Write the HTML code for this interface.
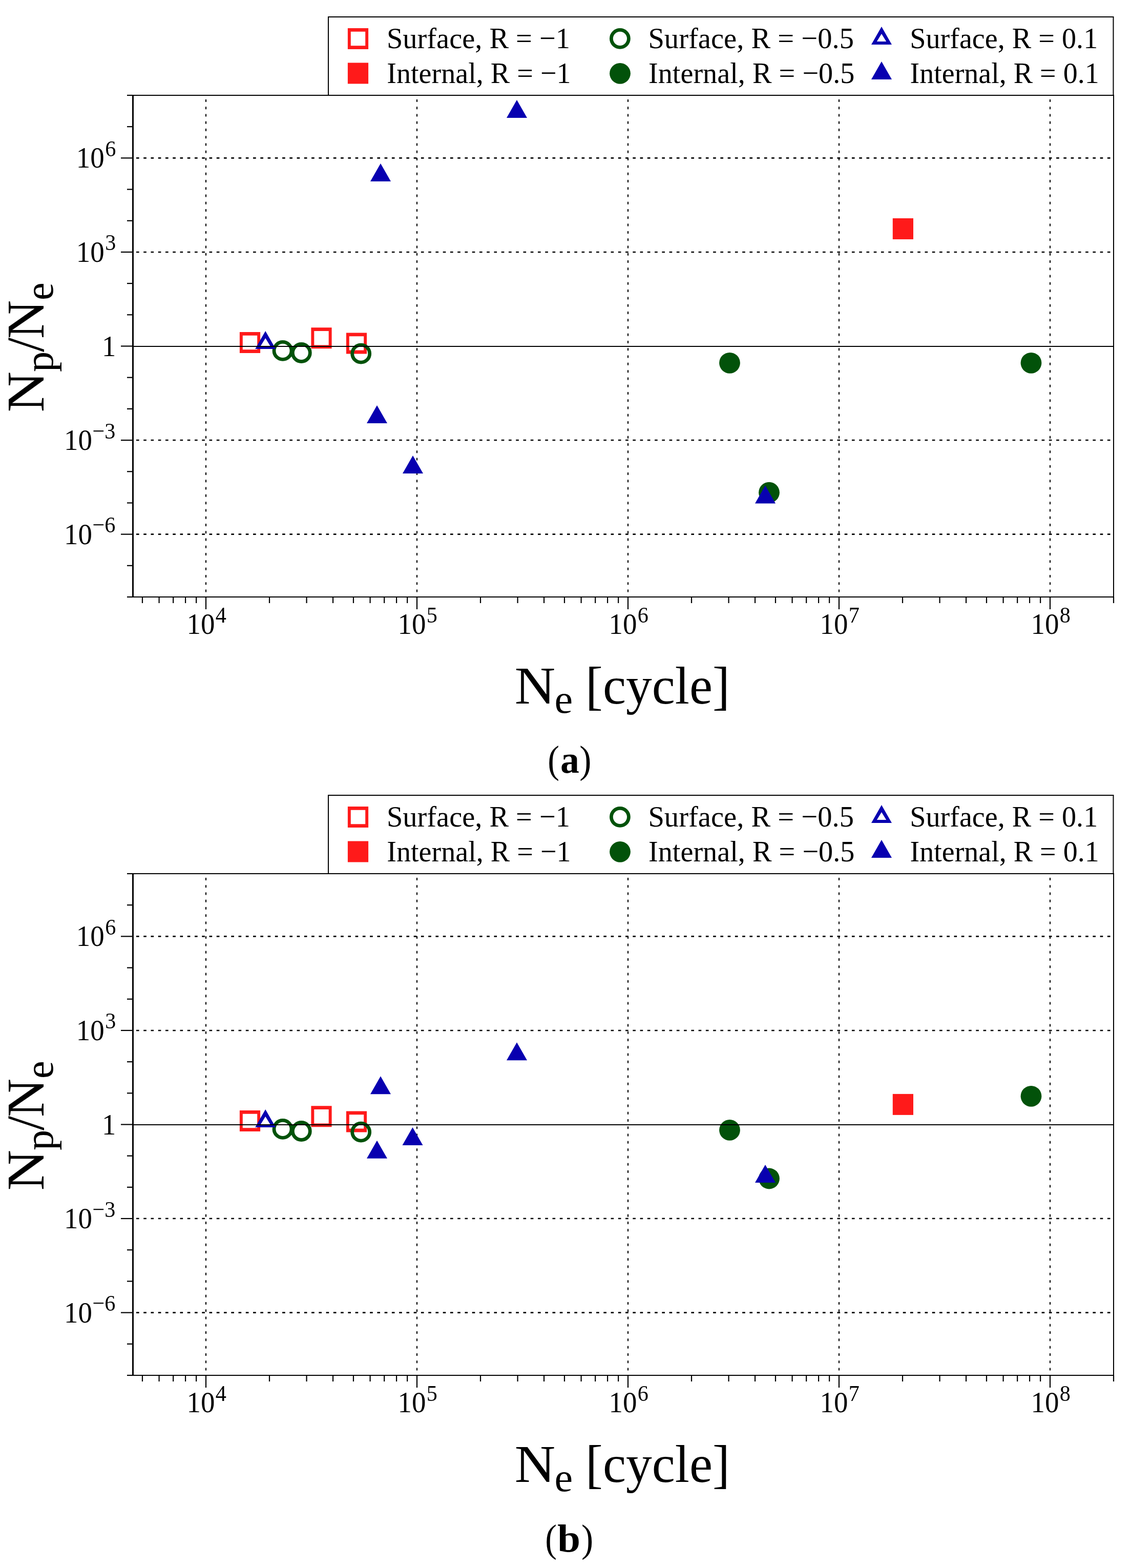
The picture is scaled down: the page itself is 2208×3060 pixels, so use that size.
<!DOCTYPE html>
<html><head><meta charset="utf-8"><title>Np/Ne vs Ne</title>
<style>html,body{margin:0;padding:0;background:#fff;}svg{display:block;}</style>
</head><body>
<svg width="2208" height="3060" viewBox="0 0 2208 3060" font-family="'Liberation Serif', 'Times New Roman', serif" fill="#000">
<rect width="2208" height="3060" fill="#fff"/>
<g transform="translate(0 0)"><rect x="641" y="33" width="1532.5" height="153" fill="#fff" stroke="#000" stroke-width="2"/>
<path d="M678.9 55h40.2v41h-40.2ZM684.8 61.8v27.4h28.4v-27.4Z" fill="#ff1a1a" fill-rule="evenodd"/>
<rect x="678.9" y="122.5" width="40.2" height="41" fill="#ff1a1a"/>
<circle cx="1210.4" cy="75.3" r="17" fill="none" stroke="#02520a" stroke-width="6.8"/>
<circle cx="1210.5" cy="143.3" r="20.4" fill="#02520a"/>
<path d="M1721 52L1741 87L1701 87Z M1721 66L1711.8 81L1730.2 81Z" fill="#0800b0" fill-rule="evenodd"/>
<path d="M1721 120L1741 155L1701 155Z" fill="#0800b0"/>
<text transform="translate(755 94) scale(0.9810 1)" font-size="57.5">Surface, R = −1</text>
<text transform="translate(755.3 162) scale(0.9760 1)" font-size="57.5">Internal, R = −1</text>
<text transform="translate(1265.4 94) scale(0.9840 1)" font-size="57.5">Surface, R = −0.5</text>
<text transform="translate(1265.9 162) scale(0.9790 1)" font-size="57.5">Internal, R = −0.5</text>
<text transform="translate(1776.2 94) scale(0.9770 1)" font-size="57.5">Surface, R = 0.1</text>
<text transform="translate(1776.6 162) scale(0.9740 1)" font-size="57.5">Internal, R = 0.1</text>
<line x1="402" y1="193.9" x2="402" y2="1160" stroke="#000" stroke-width="2.1" stroke-dasharray="5 9.277"/>
<line x1="814" y1="193.9" x2="814" y2="1160" stroke="#000" stroke-width="2.1" stroke-dasharray="5 9.277"/>
<line x1="1226" y1="193.9" x2="1226" y2="1160" stroke="#000" stroke-width="2.1" stroke-dasharray="5 9.277"/>
<line x1="1638" y1="193.9" x2="1638" y2="1160" stroke="#000" stroke-width="2.1" stroke-dasharray="5 9.277"/>
<line x1="2050" y1="193.9" x2="2050" y2="1160" stroke="#000" stroke-width="2.1" stroke-dasharray="5 9.277"/>
<line x1="266" y1="1042.62" x2="2170" y2="1042.62" stroke="#000" stroke-width="2.6" stroke-dasharray="5.6 8.655"/>
<line x1="266" y1="859.06" x2="2170" y2="859.06" stroke="#000" stroke-width="2.6" stroke-dasharray="5.6 8.655"/>
<line x1="266" y1="491.94" x2="2170" y2="491.94" stroke="#000" stroke-width="2.6" stroke-dasharray="5.6 8.655"/>
<line x1="266" y1="308.38" x2="2170" y2="308.38" stroke="#000" stroke-width="2.6" stroke-dasharray="5.6 8.655"/>
<path d="M467.9 648h40.2v41h-40.2ZM473.8 654.8v27.4h28.4v-27.4Z" fill="#ff1a1a" fill-rule="evenodd"/>
<path d="M607.4 639.2h40.2v41h-40.2ZM613.3 646v27.4h28.4v-27.4Z" fill="#ff1a1a" fill-rule="evenodd"/>
<path d="M675.9 649.4h40.2v41h-40.2ZM681.8 656.2v27.4h28.4v-27.4Z" fill="#ff1a1a" fill-rule="evenodd"/>
<rect x="1742.8" y="426" width="40.2" height="41" fill="#ff1a1a"/>
<circle cx="552" cy="684.4" r="17" fill="none" stroke="#02520a" stroke-width="6.8"/>
<circle cx="588.3" cy="688.5" r="17" fill="none" stroke="#02520a" stroke-width="6.8"/>
<circle cx="704.7" cy="690.2" r="17" fill="none" stroke="#02520a" stroke-width="6.8"/>
<circle cx="1424.5" cy="708.3" r="20.4" fill="#02520a"/>
<circle cx="1501.5" cy="961.2" r="20.4" fill="#02520a"/>
<circle cx="2013" cy="708.3" r="20.4" fill="#02520a"/>
<path d="M518.2 646L538.2 681L498.2 681Z M518.2 660L509 675L527.4 675Z" fill="#0800b0" fill-rule="evenodd"/>
<path d="M736 791L756 826L716 826Z" fill="#0800b0"/>
<path d="M806 889L826 924L786 924Z" fill="#0800b0"/>
<path d="M743 319L763 354L723 354Z" fill="#0800b0"/>
<path d="M1009 195L1029 230L989 230Z" fill="#0800b0"/>
<path d="M1494 947.5L1514 982.5L1474 982.5Z" fill="#0800b0"/>
<rect x="259" y="675" width="1915" height="2" fill="#000"/>
<rect x="258" y="185" width="1917" height="2" fill="#000"/>
<rect x="258" y="1164" width="1917" height="2" fill="#000"/>
<rect x="258" y="185" width="3" height="981" fill="#000"/>
<rect x="2173" y="185" width="2" height="981" fill="#000"/>
<line x1="248" y1="1165" x2="259" y2="1165" stroke="#000" stroke-width="2.2"/>
<line x1="248" y1="1103.81" x2="259" y2="1103.81" stroke="#000" stroke-width="2.2"/>
<line x1="236" y1="1042.62" x2="259" y2="1042.62" stroke="#000" stroke-width="2.2"/>
<line x1="248" y1="981.44" x2="259" y2="981.44" stroke="#000" stroke-width="2.2"/>
<line x1="248" y1="920.25" x2="259" y2="920.25" stroke="#000" stroke-width="2.2"/>
<line x1="236" y1="859.06" x2="259" y2="859.06" stroke="#000" stroke-width="2.2"/>
<line x1="248" y1="797.88" x2="259" y2="797.88" stroke="#000" stroke-width="2.2"/>
<line x1="248" y1="736.69" x2="259" y2="736.69" stroke="#000" stroke-width="2.2"/>
<line x1="236" y1="675.5" x2="259" y2="675.5" stroke="#000" stroke-width="2.2"/>
<line x1="248" y1="614.31" x2="259" y2="614.31" stroke="#000" stroke-width="2.2"/>
<line x1="248" y1="553.12" x2="259" y2="553.12" stroke="#000" stroke-width="2.2"/>
<line x1="236" y1="491.94" x2="259" y2="491.94" stroke="#000" stroke-width="2.2"/>
<line x1="248" y1="430.75" x2="259" y2="430.75" stroke="#000" stroke-width="2.2"/>
<line x1="248" y1="369.56" x2="259" y2="369.56" stroke="#000" stroke-width="2.2"/>
<line x1="236" y1="308.38" x2="259" y2="308.38" stroke="#000" stroke-width="2.2"/>
<line x1="248" y1="247.19" x2="259" y2="247.19" stroke="#000" stroke-width="2.2"/>
<line x1="248" y1="186" x2="259" y2="186" stroke="#000" stroke-width="2.2"/>
<line x1="277.98" y1="1165" x2="277.98" y2="1177" stroke="#000" stroke-width="2.2"/>
<line x1="310.6" y1="1165" x2="310.6" y2="1177" stroke="#000" stroke-width="2.2"/>
<line x1="338.18" y1="1165" x2="338.18" y2="1177" stroke="#000" stroke-width="2.2"/>
<line x1="362.07" y1="1165" x2="362.07" y2="1177" stroke="#000" stroke-width="2.2"/>
<line x1="383.15" y1="1165" x2="383.15" y2="1177" stroke="#000" stroke-width="2.2"/>
<line x1="402" y1="1165" x2="402" y2="1189" stroke="#000" stroke-width="2.2"/>
<line x1="526.02" y1="1165" x2="526.02" y2="1177" stroke="#000" stroke-width="2.2"/>
<line x1="598.57" y1="1165" x2="598.57" y2="1177" stroke="#000" stroke-width="2.2"/>
<line x1="650.05" y1="1165" x2="650.05" y2="1177" stroke="#000" stroke-width="2.2"/>
<line x1="689.98" y1="1165" x2="689.98" y2="1177" stroke="#000" stroke-width="2.2"/>
<line x1="722.6" y1="1165" x2="722.6" y2="1177" stroke="#000" stroke-width="2.2"/>
<line x1="750.18" y1="1165" x2="750.18" y2="1177" stroke="#000" stroke-width="2.2"/>
<line x1="774.07" y1="1165" x2="774.07" y2="1177" stroke="#000" stroke-width="2.2"/>
<line x1="795.15" y1="1165" x2="795.15" y2="1177" stroke="#000" stroke-width="2.2"/>
<line x1="814" y1="1165" x2="814" y2="1189" stroke="#000" stroke-width="2.2"/>
<line x1="938.02" y1="1165" x2="938.02" y2="1177" stroke="#000" stroke-width="2.2"/>
<line x1="1010.57" y1="1165" x2="1010.57" y2="1177" stroke="#000" stroke-width="2.2"/>
<line x1="1062.05" y1="1165" x2="1062.05" y2="1177" stroke="#000" stroke-width="2.2"/>
<line x1="1101.98" y1="1165" x2="1101.98" y2="1177" stroke="#000" stroke-width="2.2"/>
<line x1="1134.6" y1="1165" x2="1134.6" y2="1177" stroke="#000" stroke-width="2.2"/>
<line x1="1162.18" y1="1165" x2="1162.18" y2="1177" stroke="#000" stroke-width="2.2"/>
<line x1="1186.07" y1="1165" x2="1186.07" y2="1177" stroke="#000" stroke-width="2.2"/>
<line x1="1207.15" y1="1165" x2="1207.15" y2="1177" stroke="#000" stroke-width="2.2"/>
<line x1="1226" y1="1165" x2="1226" y2="1189" stroke="#000" stroke-width="2.2"/>
<line x1="1350.02" y1="1165" x2="1350.02" y2="1177" stroke="#000" stroke-width="2.2"/>
<line x1="1422.57" y1="1165" x2="1422.57" y2="1177" stroke="#000" stroke-width="2.2"/>
<line x1="1474.05" y1="1165" x2="1474.05" y2="1177" stroke="#000" stroke-width="2.2"/>
<line x1="1513.98" y1="1165" x2="1513.98" y2="1177" stroke="#000" stroke-width="2.2"/>
<line x1="1546.6" y1="1165" x2="1546.6" y2="1177" stroke="#000" stroke-width="2.2"/>
<line x1="1574.18" y1="1165" x2="1574.18" y2="1177" stroke="#000" stroke-width="2.2"/>
<line x1="1598.07" y1="1165" x2="1598.07" y2="1177" stroke="#000" stroke-width="2.2"/>
<line x1="1619.15" y1="1165" x2="1619.15" y2="1177" stroke="#000" stroke-width="2.2"/>
<line x1="1638" y1="1165" x2="1638" y2="1189" stroke="#000" stroke-width="2.2"/>
<line x1="1762.02" y1="1165" x2="1762.02" y2="1177" stroke="#000" stroke-width="2.2"/>
<line x1="1834.57" y1="1165" x2="1834.57" y2="1177" stroke="#000" stroke-width="2.2"/>
<line x1="1886.05" y1="1165" x2="1886.05" y2="1177" stroke="#000" stroke-width="2.2"/>
<line x1="1925.98" y1="1165" x2="1925.98" y2="1177" stroke="#000" stroke-width="2.2"/>
<line x1="1958.6" y1="1165" x2="1958.6" y2="1177" stroke="#000" stroke-width="2.2"/>
<line x1="1986.18" y1="1165" x2="1986.18" y2="1177" stroke="#000" stroke-width="2.2"/>
<line x1="2010.07" y1="1165" x2="2010.07" y2="1177" stroke="#000" stroke-width="2.2"/>
<line x1="2031.15" y1="1165" x2="2031.15" y2="1177" stroke="#000" stroke-width="2.2"/>
<line x1="2050" y1="1165" x2="2050" y2="1189" stroke="#000" stroke-width="2.2"/>
<line x1="2174.02" y1="1165" x2="2174.02" y2="1177" stroke="#000" stroke-width="2.2"/>
<text transform="translate(364.5 1237.1) scale(0.9640 1)" font-size="57">10</text>
<text transform="translate(420.8 1215) scale(0.9600 1)" font-size="44">4</text>
<text transform="translate(776.5 1237.1) scale(0.9640 1)" font-size="57">10</text>
<text transform="translate(832.8 1215) scale(0.9600 1)" font-size="44">5</text>
<text transform="translate(1188.5 1237.1) scale(0.9640 1)" font-size="57">10</text>
<text transform="translate(1244.8 1215) scale(0.9600 1)" font-size="44">6</text>
<text transform="translate(1600.5 1237.1) scale(0.9640 1)" font-size="57">10</text>
<text transform="translate(1656.8 1215) scale(0.9600 1)" font-size="44">7</text>
<text transform="translate(2012.5 1237.1) scale(0.9640 1)" font-size="57">10</text>
<text transform="translate(2068.8 1215) scale(0.9600 1)" font-size="44">8</text>
<text transform="translate(148.8 327.48) scale(0.9640 1)" font-size="57">10</text>
<text transform="translate(205.2 304.77) scale(0.9600 1)" font-size="44">6</text>
<text transform="translate(148.8 511.04) scale(0.9640 1)" font-size="57">10</text>
<text transform="translate(205.2 488.34) scale(0.9600 1)" font-size="44">3</text>
<text transform="translate(198.9 694.8) scale(0.9600 1)" font-size="57">1</text>
<text transform="translate(125 877.96) scale(0.9640 1)" font-size="57">10</text>
<text transform="translate(180.4 855.76) scale(0.9600 1)" font-size="44">−3</text>
<text transform="translate(125 1061.53) scale(0.9640 1)" font-size="57">10</text>
<text transform="translate(180.4 1039.33) scale(0.9600 1)" font-size="44">−6</text>
<text transform="translate(1004.7 1372.5) scale(1.0570 1)" font-size="104">N</text>
<text transform="translate(1082.4 1390.5) scale(1.0300 1)" font-size="78">e</text>
<text transform="translate(1143.1 1372.5) scale(0.9760 1)" font-size="104">[cycle]</text>
<text transform="translate(85.2 804.5) rotate(-90) scale(1.0600 1)" font-size="104">N</text>
<text transform="translate(103.2 726) rotate(-90) scale(1.0300 1)" font-size="78">p</text>
<text transform="translate(85.2 687) rotate(-90) scale(0.9760 1)" font-size="104">/</text>
<text transform="translate(85.2 661) rotate(-90) scale(1.0000 1)" font-size="104">N</text>
<text transform="translate(103.2 586) rotate(-90) scale(1.0000 1)" font-size="78">e</text></g>
<g transform="translate(0 1519)"><rect x="641" y="33" width="1532.5" height="153" fill="#fff" stroke="#000" stroke-width="2"/>
<path d="M678.9 55h40.2v41h-40.2ZM684.8 61.8v27.4h28.4v-27.4Z" fill="#ff1a1a" fill-rule="evenodd"/>
<rect x="678.9" y="122.5" width="40.2" height="41" fill="#ff1a1a"/>
<circle cx="1210.4" cy="75.3" r="17" fill="none" stroke="#02520a" stroke-width="6.8"/>
<circle cx="1210.5" cy="143.3" r="20.4" fill="#02520a"/>
<path d="M1721 52L1741 87L1701 87Z M1721 66L1711.8 81L1730.2 81Z" fill="#0800b0" fill-rule="evenodd"/>
<path d="M1721 120L1741 155L1701 155Z" fill="#0800b0"/>
<text transform="translate(755 94) scale(0.9810 1)" font-size="57.5">Surface, R = −1</text>
<text transform="translate(755.3 162) scale(0.9760 1)" font-size="57.5">Internal, R = −1</text>
<text transform="translate(1265.4 94) scale(0.9840 1)" font-size="57.5">Surface, R = −0.5</text>
<text transform="translate(1265.9 162) scale(0.9790 1)" font-size="57.5">Internal, R = −0.5</text>
<text transform="translate(1776.2 94) scale(0.9770 1)" font-size="57.5">Surface, R = 0.1</text>
<text transform="translate(1776.6 162) scale(0.9740 1)" font-size="57.5">Internal, R = 0.1</text>
<line x1="402" y1="193.9" x2="402" y2="1160" stroke="#000" stroke-width="2.1" stroke-dasharray="5 9.277"/>
<line x1="814" y1="193.9" x2="814" y2="1160" stroke="#000" stroke-width="2.1" stroke-dasharray="5 9.277"/>
<line x1="1226" y1="193.9" x2="1226" y2="1160" stroke="#000" stroke-width="2.1" stroke-dasharray="5 9.277"/>
<line x1="1638" y1="193.9" x2="1638" y2="1160" stroke="#000" stroke-width="2.1" stroke-dasharray="5 9.277"/>
<line x1="2050" y1="193.9" x2="2050" y2="1160" stroke="#000" stroke-width="2.1" stroke-dasharray="5 9.277"/>
<line x1="266" y1="1042.62" x2="2170" y2="1042.62" stroke="#000" stroke-width="2.6" stroke-dasharray="5.6 8.655"/>
<line x1="266" y1="859.06" x2="2170" y2="859.06" stroke="#000" stroke-width="2.6" stroke-dasharray="5.6 8.655"/>
<line x1="266" y1="491.94" x2="2170" y2="491.94" stroke="#000" stroke-width="2.6" stroke-dasharray="5.6 8.655"/>
<line x1="266" y1="308.38" x2="2170" y2="308.38" stroke="#000" stroke-width="2.6" stroke-dasharray="5.6 8.655"/>
<path d="M467.9 648h40.2v41h-40.2ZM473.8 654.8v27.4h28.4v-27.4Z" fill="#ff1a1a" fill-rule="evenodd"/>
<path d="M607.4 639.2h40.2v41h-40.2ZM613.3 646v27.4h28.4v-27.4Z" fill="#ff1a1a" fill-rule="evenodd"/>
<path d="M675.9 649.4h40.2v41h-40.2ZM681.8 656.2v27.4h28.4v-27.4Z" fill="#ff1a1a" fill-rule="evenodd"/>
<rect x="1742.8" y="615.9" width="40.2" height="41" fill="#ff1a1a"/>
<circle cx="552" cy="684.4" r="17" fill="none" stroke="#02520a" stroke-width="6.8"/>
<circle cx="588.3" cy="688.5" r="17" fill="none" stroke="#02520a" stroke-width="6.8"/>
<circle cx="704.7" cy="690.2" r="17" fill="none" stroke="#02520a" stroke-width="6.8"/>
<circle cx="1424.5" cy="686.4" r="20.4" fill="#02520a"/>
<circle cx="1501.5" cy="781" r="20.4" fill="#02520a"/>
<circle cx="2013" cy="620.3" r="20.4" fill="#02520a"/>
<path d="M518.2 646L538.2 681L498.2 681Z M518.2 660L509 675L527.4 675Z" fill="#0800b0" fill-rule="evenodd"/>
<path d="M736 706.8L756 741.8L716 741.8Z" fill="#0800b0"/>
<path d="M805.5 681.1L825.5 716.1L785.5 716.1Z" fill="#0800b0"/>
<path d="M743 581.3L763 616.3L723 616.3Z" fill="#0800b0"/>
<path d="M1009 515.2L1029 550.2L989 550.2Z" fill="#0800b0"/>
<path d="M1494 753.9L1514 788.9L1474 788.9Z" fill="#0800b0"/>
<rect x="259" y="675" width="1915" height="2" fill="#000"/>
<rect x="258" y="185" width="1917" height="2" fill="#000"/>
<rect x="258" y="1164" width="1917" height="2" fill="#000"/>
<rect x="258" y="185" width="3" height="981" fill="#000"/>
<rect x="2173" y="185" width="2" height="981" fill="#000"/>
<line x1="248" y1="1165" x2="259" y2="1165" stroke="#000" stroke-width="2.2"/>
<line x1="248" y1="1103.81" x2="259" y2="1103.81" stroke="#000" stroke-width="2.2"/>
<line x1="236" y1="1042.62" x2="259" y2="1042.62" stroke="#000" stroke-width="2.2"/>
<line x1="248" y1="981.44" x2="259" y2="981.44" stroke="#000" stroke-width="2.2"/>
<line x1="248" y1="920.25" x2="259" y2="920.25" stroke="#000" stroke-width="2.2"/>
<line x1="236" y1="859.06" x2="259" y2="859.06" stroke="#000" stroke-width="2.2"/>
<line x1="248" y1="797.88" x2="259" y2="797.88" stroke="#000" stroke-width="2.2"/>
<line x1="248" y1="736.69" x2="259" y2="736.69" stroke="#000" stroke-width="2.2"/>
<line x1="236" y1="675.5" x2="259" y2="675.5" stroke="#000" stroke-width="2.2"/>
<line x1="248" y1="614.31" x2="259" y2="614.31" stroke="#000" stroke-width="2.2"/>
<line x1="248" y1="553.12" x2="259" y2="553.12" stroke="#000" stroke-width="2.2"/>
<line x1="236" y1="491.94" x2="259" y2="491.94" stroke="#000" stroke-width="2.2"/>
<line x1="248" y1="430.75" x2="259" y2="430.75" stroke="#000" stroke-width="2.2"/>
<line x1="248" y1="369.56" x2="259" y2="369.56" stroke="#000" stroke-width="2.2"/>
<line x1="236" y1="308.38" x2="259" y2="308.38" stroke="#000" stroke-width="2.2"/>
<line x1="248" y1="247.19" x2="259" y2="247.19" stroke="#000" stroke-width="2.2"/>
<line x1="248" y1="186" x2="259" y2="186" stroke="#000" stroke-width="2.2"/>
<line x1="277.98" y1="1165" x2="277.98" y2="1177" stroke="#000" stroke-width="2.2"/>
<line x1="310.6" y1="1165" x2="310.6" y2="1177" stroke="#000" stroke-width="2.2"/>
<line x1="338.18" y1="1165" x2="338.18" y2="1177" stroke="#000" stroke-width="2.2"/>
<line x1="362.07" y1="1165" x2="362.07" y2="1177" stroke="#000" stroke-width="2.2"/>
<line x1="383.15" y1="1165" x2="383.15" y2="1177" stroke="#000" stroke-width="2.2"/>
<line x1="402" y1="1165" x2="402" y2="1189" stroke="#000" stroke-width="2.2"/>
<line x1="526.02" y1="1165" x2="526.02" y2="1177" stroke="#000" stroke-width="2.2"/>
<line x1="598.57" y1="1165" x2="598.57" y2="1177" stroke="#000" stroke-width="2.2"/>
<line x1="650.05" y1="1165" x2="650.05" y2="1177" stroke="#000" stroke-width="2.2"/>
<line x1="689.98" y1="1165" x2="689.98" y2="1177" stroke="#000" stroke-width="2.2"/>
<line x1="722.6" y1="1165" x2="722.6" y2="1177" stroke="#000" stroke-width="2.2"/>
<line x1="750.18" y1="1165" x2="750.18" y2="1177" stroke="#000" stroke-width="2.2"/>
<line x1="774.07" y1="1165" x2="774.07" y2="1177" stroke="#000" stroke-width="2.2"/>
<line x1="795.15" y1="1165" x2="795.15" y2="1177" stroke="#000" stroke-width="2.2"/>
<line x1="814" y1="1165" x2="814" y2="1189" stroke="#000" stroke-width="2.2"/>
<line x1="938.02" y1="1165" x2="938.02" y2="1177" stroke="#000" stroke-width="2.2"/>
<line x1="1010.57" y1="1165" x2="1010.57" y2="1177" stroke="#000" stroke-width="2.2"/>
<line x1="1062.05" y1="1165" x2="1062.05" y2="1177" stroke="#000" stroke-width="2.2"/>
<line x1="1101.98" y1="1165" x2="1101.98" y2="1177" stroke="#000" stroke-width="2.2"/>
<line x1="1134.6" y1="1165" x2="1134.6" y2="1177" stroke="#000" stroke-width="2.2"/>
<line x1="1162.18" y1="1165" x2="1162.18" y2="1177" stroke="#000" stroke-width="2.2"/>
<line x1="1186.07" y1="1165" x2="1186.07" y2="1177" stroke="#000" stroke-width="2.2"/>
<line x1="1207.15" y1="1165" x2="1207.15" y2="1177" stroke="#000" stroke-width="2.2"/>
<line x1="1226" y1="1165" x2="1226" y2="1189" stroke="#000" stroke-width="2.2"/>
<line x1="1350.02" y1="1165" x2="1350.02" y2="1177" stroke="#000" stroke-width="2.2"/>
<line x1="1422.57" y1="1165" x2="1422.57" y2="1177" stroke="#000" stroke-width="2.2"/>
<line x1="1474.05" y1="1165" x2="1474.05" y2="1177" stroke="#000" stroke-width="2.2"/>
<line x1="1513.98" y1="1165" x2="1513.98" y2="1177" stroke="#000" stroke-width="2.2"/>
<line x1="1546.6" y1="1165" x2="1546.6" y2="1177" stroke="#000" stroke-width="2.2"/>
<line x1="1574.18" y1="1165" x2="1574.18" y2="1177" stroke="#000" stroke-width="2.2"/>
<line x1="1598.07" y1="1165" x2="1598.07" y2="1177" stroke="#000" stroke-width="2.2"/>
<line x1="1619.15" y1="1165" x2="1619.15" y2="1177" stroke="#000" stroke-width="2.2"/>
<line x1="1638" y1="1165" x2="1638" y2="1189" stroke="#000" stroke-width="2.2"/>
<line x1="1762.02" y1="1165" x2="1762.02" y2="1177" stroke="#000" stroke-width="2.2"/>
<line x1="1834.57" y1="1165" x2="1834.57" y2="1177" stroke="#000" stroke-width="2.2"/>
<line x1="1886.05" y1="1165" x2="1886.05" y2="1177" stroke="#000" stroke-width="2.2"/>
<line x1="1925.98" y1="1165" x2="1925.98" y2="1177" stroke="#000" stroke-width="2.2"/>
<line x1="1958.6" y1="1165" x2="1958.6" y2="1177" stroke="#000" stroke-width="2.2"/>
<line x1="1986.18" y1="1165" x2="1986.18" y2="1177" stroke="#000" stroke-width="2.2"/>
<line x1="2010.07" y1="1165" x2="2010.07" y2="1177" stroke="#000" stroke-width="2.2"/>
<line x1="2031.15" y1="1165" x2="2031.15" y2="1177" stroke="#000" stroke-width="2.2"/>
<line x1="2050" y1="1165" x2="2050" y2="1189" stroke="#000" stroke-width="2.2"/>
<line x1="2174.02" y1="1165" x2="2174.02" y2="1177" stroke="#000" stroke-width="2.2"/>
<text transform="translate(364.5 1237.1) scale(0.9640 1)" font-size="57">10</text>
<text transform="translate(420.8 1215) scale(0.9600 1)" font-size="44">4</text>
<text transform="translate(776.5 1237.1) scale(0.9640 1)" font-size="57">10</text>
<text transform="translate(832.8 1215) scale(0.9600 1)" font-size="44">5</text>
<text transform="translate(1188.5 1237.1) scale(0.9640 1)" font-size="57">10</text>
<text transform="translate(1244.8 1215) scale(0.9600 1)" font-size="44">6</text>
<text transform="translate(1600.5 1237.1) scale(0.9640 1)" font-size="57">10</text>
<text transform="translate(1656.8 1215) scale(0.9600 1)" font-size="44">7</text>
<text transform="translate(2012.5 1237.1) scale(0.9640 1)" font-size="57">10</text>
<text transform="translate(2068.8 1215) scale(0.9600 1)" font-size="44">8</text>
<text transform="translate(148.8 327.48) scale(0.9640 1)" font-size="57">10</text>
<text transform="translate(205.2 304.77) scale(0.9600 1)" font-size="44">6</text>
<text transform="translate(148.8 511.04) scale(0.9640 1)" font-size="57">10</text>
<text transform="translate(205.2 488.34) scale(0.9600 1)" font-size="44">3</text>
<text transform="translate(198.9 694.8) scale(0.9600 1)" font-size="57">1</text>
<text transform="translate(125 877.96) scale(0.9640 1)" font-size="57">10</text>
<text transform="translate(180.4 855.76) scale(0.9600 1)" font-size="44">−3</text>
<text transform="translate(125 1061.53) scale(0.9640 1)" font-size="57">10</text>
<text transform="translate(180.4 1039.33) scale(0.9600 1)" font-size="44">−6</text>
<text transform="translate(1004.7 1372.5) scale(1.0570 1)" font-size="104">N</text>
<text transform="translate(1082.4 1390.5) scale(1.0300 1)" font-size="78">e</text>
<text transform="translate(1143.1 1372.5) scale(0.9760 1)" font-size="104">[cycle]</text>
<text transform="translate(85.2 804.5) rotate(-90) scale(1.0600 1)" font-size="104">N</text>
<text transform="translate(103.2 726) rotate(-90) scale(1.0300 1)" font-size="78">p</text>
<text transform="translate(85.2 687) rotate(-90) scale(0.9760 1)" font-size="104">/</text>
<text transform="translate(85.2 661) rotate(-90) scale(1.0000 1)" font-size="104">N</text>
<text transform="translate(103.2 586) rotate(-90) scale(1.0000 1)" font-size="78">e</text></g>
<text transform="translate(1069.3 1508) scale(0.9000 1)" font-size="76">(</text><text transform="translate(1094.06 1508) scale(0.9700 1)" font-size="76" font-weight="bold">a</text><text transform="translate(1131.16 1508) scale(0.9200 1)" font-size="76">)</text>
<text transform="translate(1064.3 3027.6) scale(0.9000 1)" font-size="76">(</text><text transform="translate(1088.14 3027.6) scale(1.0600 1)" font-size="76" font-weight="bold">b</text><text transform="translate(1135.06 3027.6) scale(0.9200 1)" font-size="76">)</text>
</svg>
</body></html>
